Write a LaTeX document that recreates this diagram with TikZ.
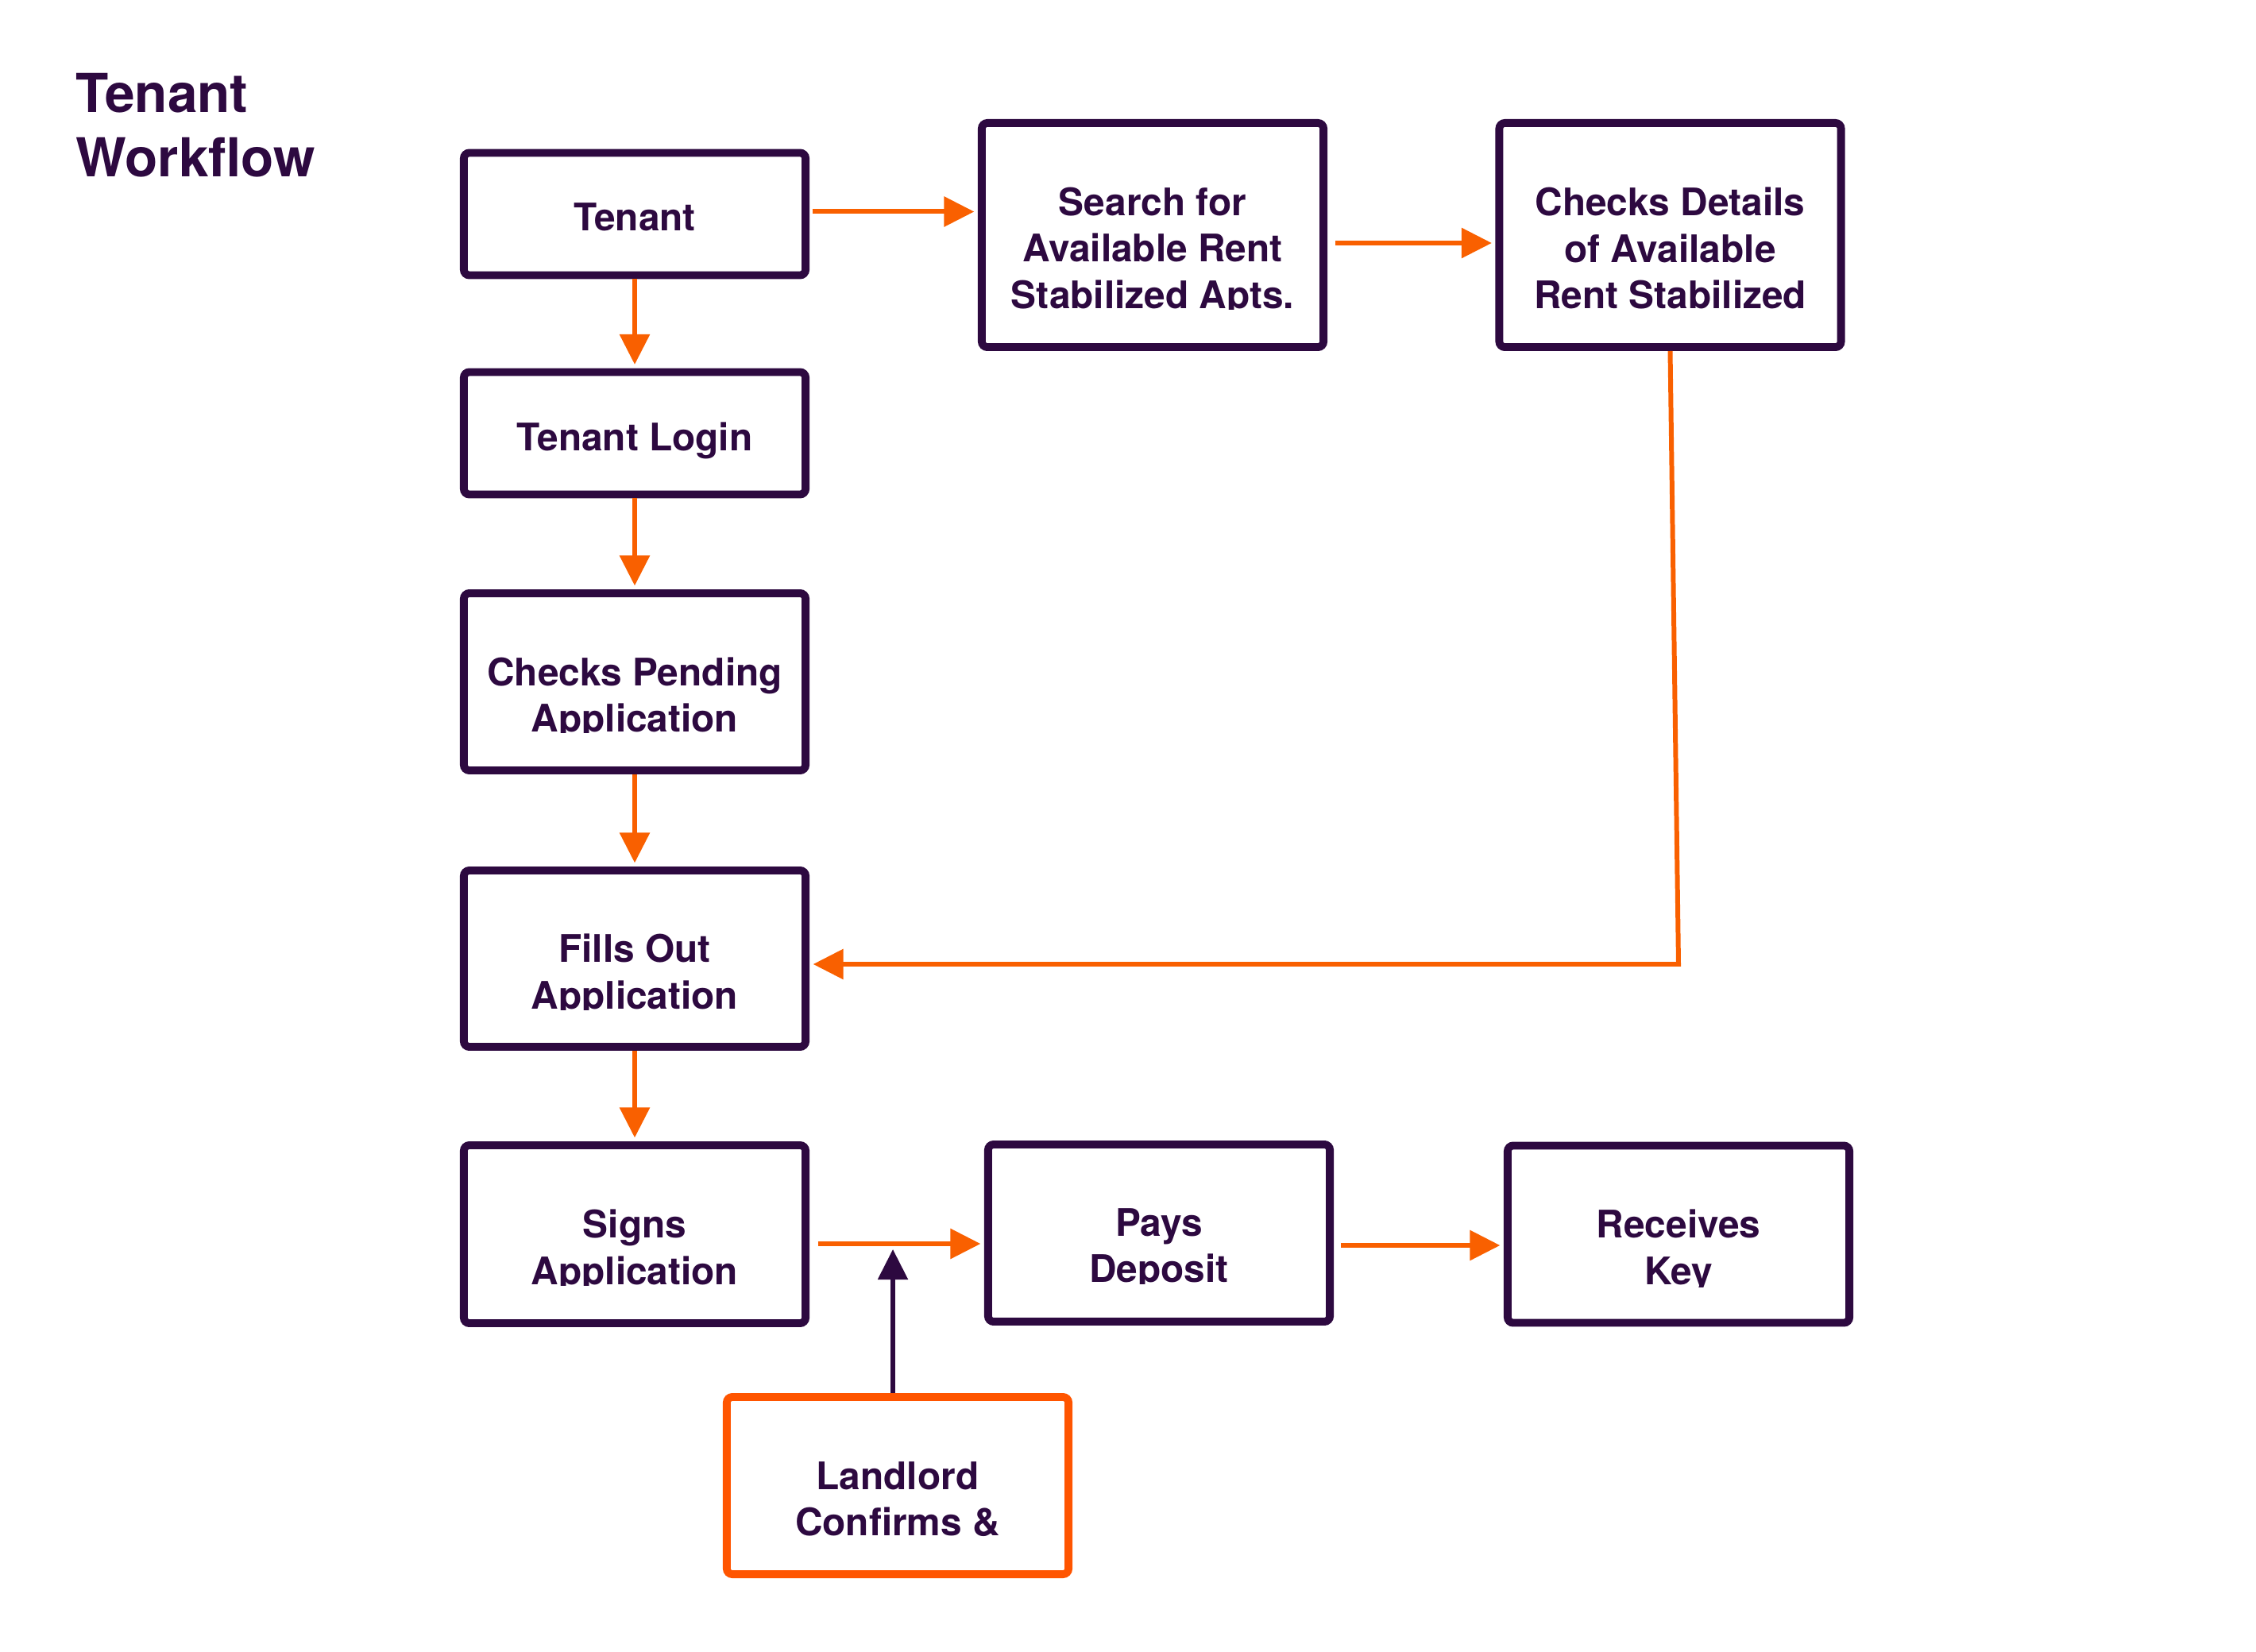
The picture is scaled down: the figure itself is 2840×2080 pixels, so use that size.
\documentclass[tikz,border=0pt]{standalone}
\usepackage{fontspec}
\setmainfont{TeX Gyre Heros}
\usetikzlibrary{arrows.meta}
\definecolor{tpurple}{HTML}{2D0940}
\definecolor{torange}{HTML}{F96000}
\definecolor{lorange}{HTML}{FF5500}
\newcommand{\btext}[5]{%
  \begin{scope}
    \clip ([xshift=-2.2cm,yshift=2cm]#2.center) rectangle ([xshift=2.2cm,yshift=-#4]#2.center);
    \node[txt,anchor=north] (#1) at ([yshift=#3]#2.center) {#5};
  \end{scope}}
\begin{document}
\begin{tikzpicture}[x=0.01cm,y=-0.01cm,
  box/.style={draw=tpurple,line width=2.8pt,rounded corners=2pt,fill=white,
    minimum width=4.3cm,inner sep=0pt},
  lbox/.style={box,draw=lorange},
  txt/.style={font=\fontsize{13.6}{16.6}\selectfont\bfseries,text=tpurple,align=center,inner sep=0pt},
  ttl/.style={font=\fontsize{19.2}{23}\selectfont\bfseries,text=tpurple,inner sep=0pt,anchor=base west},
  arr/.style={draw=torange,line width=1.7pt,-{Triangle[length=0.38cm,width=0.37cm]},
    shorten >=1.3pt},
  darr/.style={draw=tpurple,line width=1.55pt,-{Triangle[length=0.38cm,width=0.37cm]}}]
\useasboundingbox (0,0) rectangle (2840,2080);

\node[ttl] (title1) at (95,142) {Tenant};
\node[ttl] (title2) at (95,223) {Workflow};

\node[box,minimum height=1.54cm] (tenant) at (799,269.5) {};
\node[box,minimum height=1.54cm] (login) at (799,545.5) {};
\node[box,minimum height=2.23cm] (checks) at (799,858.5) {};
\node[box,minimum height=2.22cm] (fills) at (799,1207) {};
\node[box,minimum height=2.24cm] (signs) at (799,1554) {};
\node[box,minimum height=2.82cm] (search) at (1451,296) {};
\node[box,minimum height=2.82cm] (details) at (2102.5,296) {};
\node[box,minimum height=2.23cm] (pays) at (1459,1552.5) {};
\node[box,minimum height=2.23cm] (receives) at (2113,1554) {};
\node[lbox,minimum height=2.23cm] (landlord) at (1130,1870.5) {};

\btext{tenantT}{tenant}{0.145cm}{2cm}{Tenant}
\btext{loginT}{login}{0.145cm}{2cm}{Tenant Login}
\btext{checksT}{checks}{0.315cm}{0.64cm}{Checks Pending\\Application}
\btext{fillsT}{fills}{0.315cm}{0.64cm}{Fills Out\\Application}
\btext{signsT}{signs}{0.315cm}{0.64cm}{Signs\\Application}
\btext{searchT}{search}{0.605cm}{0.93cm}{Search for\\Available Rent\\Stabilized Apts.}
\btext{detailsT}{details}{0.605cm}{0.93cm}{Checks Details\\of Available\\Rent Stabilized}
\btext{paysT}{pays}{0.315cm}{0.64cm}{Pays\\Deposit}
\btext{receivesT}{receives}{0.315cm}{0.66cm}{Receives\\Key}
\btext{landlordT}{landlord}{0.305cm}{0.64cm}{Landlord\\Confirms \&}

\coordinate (corner) at (2113,1214);
\coordinate (lt) at (1124,1573);

\draw[arr] (tenant) -- (login);
\draw[arr] (login) -- (checks);
\draw[arr] (checks) -- (fills);
\draw[arr] (fills) -- (signs);
\draw[arr,shorten <=1pt] ([yshift=0.03cm]tenant.east) -- ([yshift=0.03cm]tenant.east -| search.west);
\draw[arr,shorten <=2.8pt] ([yshift=-0.1cm]search.east) -- ([yshift=-0.1cm]search.east -| details.west);
\draw[arr] (details.south) -- (corner) -- (corner -| fills.east);
\draw[arr,shorten <=3pt] ([yshift=-0.12cm]signs.east) -- ([yshift=-0.12cm]signs.east -| pays.west);
\draw[arr,shorten <=2.5pt] ([yshift=-0.155cm]pays.east) -- ([yshift=-0.155cm]pays.east -| receives.west);
\draw[darr] (lt |- landlord.north) -- (lt);
\end{tikzpicture}
\end{document}
